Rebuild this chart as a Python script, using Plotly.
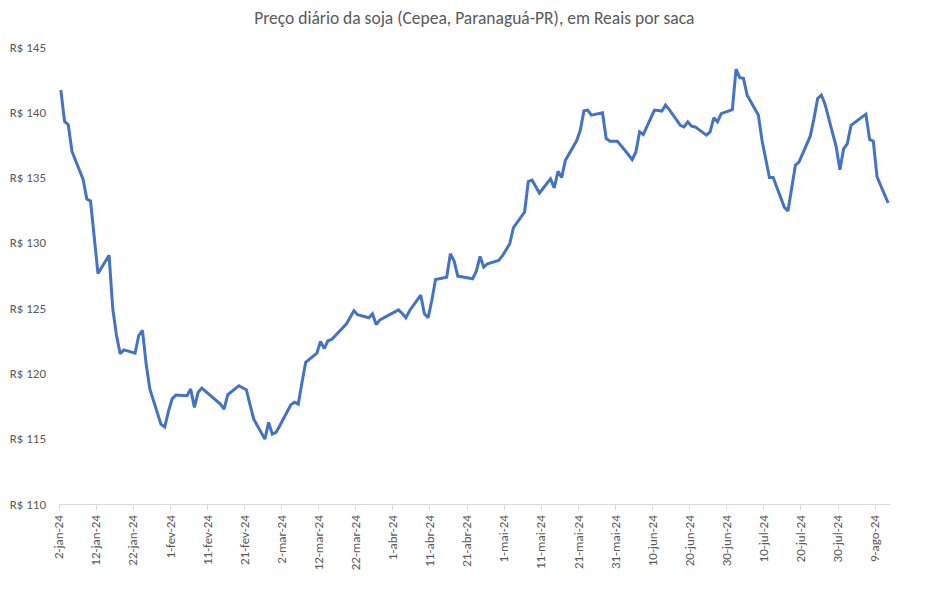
import plotly.graph_objects as go
import pandas as pd

title_text = "Preço diário da soja (Cepea, Paranaguá-PR), em Reais por saca"

dates = [
    "2024-01-02", "2024-01-03", "2024-01-04", "2024-01-05", "2024-01-08", "2024-01-09", "2024-01-10",
    "2024-01-11", "2024-01-12", "2024-01-15", "2024-01-16", "2024-01-17", "2024-01-18", "2024-01-19",
    "2024-01-22", "2024-01-23", "2024-01-24", "2024-01-25", "2024-01-26", "2024-01-29", "2024-01-30",
    "2024-01-31", "2024-02-01", "2024-02-02", "2024-02-05", "2024-02-06", "2024-02-07", "2024-02-08",
    "2024-02-09", "2024-02-14", "2024-02-15", "2024-02-16", "2024-02-19", "2024-02-20", "2024-02-21",
    "2024-02-22", "2024-02-23", "2024-02-26", "2024-02-27", "2024-02-28", "2024-02-29", "2024-03-01",
    "2024-03-04", "2024-03-05", "2024-03-06", "2024-03-07", "2024-03-08", "2024-03-11", "2024-03-12",
    "2024-03-13", "2024-03-14", "2024-03-15", "2024-03-18", "2024-03-19", "2024-03-20", "2024-03-21",
    "2024-03-22", "2024-03-25", "2024-03-26", "2024-03-27", "2024-03-28", "2024-04-01", "2024-04-02",
    "2024-04-03", "2024-04-04", "2024-04-05", "2024-04-08", "2024-04-09", "2024-04-10", "2024-04-11",
    "2024-04-12", "2024-04-15", "2024-04-16", "2024-04-17", "2024-04-18", "2024-04-19", "2024-04-22",
    "2024-04-23", "2024-04-24", "2024-04-25", "2024-04-26", "2024-04-29", "2024-04-30", "2024-05-02",
    "2024-05-03", "2024-05-06", "2024-05-07", "2024-05-08", "2024-05-09", "2024-05-10", "2024-05-13",
    "2024-05-14", "2024-05-15", "2024-05-16", "2024-05-17", "2024-05-20", "2024-05-21", "2024-05-22",
    "2024-05-23", "2024-05-24", "2024-05-27", "2024-05-28", "2024-05-29", "2024-05-31", "2024-06-03",
    "2024-06-04", "2024-06-05", "2024-06-06", "2024-06-07", "2024-06-10", "2024-06-11", "2024-06-12",
    "2024-06-13", "2024-06-14", "2024-06-17", "2024-06-18", "2024-06-19", "2024-06-20", "2024-06-21",
    "2024-06-24", "2024-06-25", "2024-06-26", "2024-06-27", "2024-06-28", "2024-07-01", "2024-07-02",
    "2024-07-03", "2024-07-04", "2024-07-05", "2024-07-08", "2024-07-09", "2024-07-10", "2024-07-11",
    "2024-07-12", "2024-07-15", "2024-07-16", "2024-07-17", "2024-07-18", "2024-07-19", "2024-07-22",
    "2024-07-23", "2024-07-24", "2024-07-25", "2024-07-26", "2024-07-29", "2024-07-30", "2024-07-31",
    "2024-08-01", "2024-08-02", "2024-08-05", "2024-08-06", "2024-08-07", "2024-08-08", "2024-08-09",
    "2024-08-12",
]

prices = [
    141.7, 139.3, 139.05, 137.0, 134.85, 133.35, 133.2,
    130.4, 127.65, 129.05, 124.95, 122.9, 121.5, 121.8,
    121.55, 122.9, 123.3, 120.7, 118.8, 116.1, 115.9,
    117.1, 118.05, 118.35, 118.3, 118.8, 117.4, 118.55,
    118.88, 117.65, 117.27, 118.37, 119.06, 118.9, 118.75,
    117.6, 116.5, 114.97, 116.25, 115.35, 115.48, 116.0,
    117.6, 117.8, 117.65, 119.3, 120.85, 121.55, 122.44,
    121.9, 122.5, 122.6, 123.53, 123.8, 124.3, 124.8,
    124.5, 124.26, 124.56, 123.74, 124.1, 124.68, 124.87,
    124.6, 124.26, 124.8, 126.0, 124.56, 124.26, 125.6,
    127.2, 127.37, 129.17, 128.6, 127.45, 127.4, 127.25,
    127.83, 128.96, 128.14, 128.4, 128.65, 129.0, 129.93,
    131.16, 132.36, 134.7, 134.8, 134.3, 133.82, 134.9,
    134.2, 135.48, 135.0, 136.33, 137.8, 138.6, 140.11,
    140.17, 139.78, 139.96, 137.99, 137.79, 137.79, 136.75,
    136.38, 136.96, 138.5, 138.3, 140.17, 140.13, 140.09,
    140.55, 140.2, 139.0, 138.88, 139.27, 138.94, 138.88,
    138.25, 138.5, 139.57, 139.27, 139.9, 140.2, 143.3,
    142.65, 142.6, 141.3, 139.8, 137.86, 136.45, 135.0,
    135.0, 132.74, 132.44, 134.2, 135.94, 136.2, 138.17,
    139.5, 141.06, 141.32, 140.6, 137.35, 135.6, 137.2,
    137.6, 139.0, 139.7, 139.86, 137.92, 137.79, 135.05,
    133.05,
]

tick_dates = [
    "2024-01-02", "2024-01-12", "2024-01-22", "2024-02-01", "2024-02-11", "2024-02-21",
    "2024-03-02", "2024-03-12", "2024-03-22", "2024-04-01", "2024-04-11", "2024-04-21",
    "2024-05-01", "2024-05-11", "2024-05-21", "2024-05-31", "2024-06-10", "2024-06-20",
    "2024-06-30", "2024-07-10", "2024-07-20", "2024-07-30", "2024-08-09",
]
tick_labels = [
    "2-jan-24", "12-jan-24", "22-jan-24", "1-fev-24", "11-fev-24", "21-fev-24",
    "2-mar-24", "12-mar-24", "22-mar-24", "1-abr-24", "11-abr-24", "21-abr-24",
    "1-mai-24", "11-mai-24", "21-mai-24", "31-mai-24", "10-jun-24", "20-jun-24",
    "30-jun-24", "10-jul-24", "20-jul-24", "30-jul-24", "9-ago-24",
]

y_ticks = [110, 115, 120, 125, 130, 135, 140, 145]
y_labels = ["R$ " + str(v) for v in y_ticks]

half_day = pd.Timedelta(hours=12)
tick_pos = [pd.Timestamp(d) - half_day for d in tick_dates]
x_start = pd.Timestamp(dates[0]) - half_day
x_end = pd.Timestamp(dates[-1]) + half_day

fig = go.Figure()
fig.add_trace(go.Scatter(
    x=pd.to_datetime(dates), y=prices, mode="lines",
    line=dict(color="#4472C4", width=3), hoverinfo="x+y",
))

font_fam = "Carlito, Calibri, 'Open Sans', sans-serif"
fig.update_layout(
    width=940, height=581,
    margin=dict(l=51, r=58, t=39, b=85),
    paper_bgcolor="white", plot_bgcolor="white",
    showlegend=False,
    title=dict(text=title_text, x=0.496, xanchor="center", y=0.983, yanchor="middle",
               font=dict(family=font_fam, size=17.5, color="#595959")),
    font=dict(family=font_fam, color="#595959"),
)
fig.update_xaxes(
    type="date", range=[x_start, x_end],
    tickmode="array", tickvals=tick_pos, ticktext=tick_labels,
    tickangle=-90, tickfont=dict(size=13, color="#595959"),
    showline=True, linecolor="#D9D9D9", linewidth=1,
    ticks="outside", tickcolor="#D9D9D9", ticklen=5,
    showgrid=False, zeroline=False, automargin=False,
)
fig.update_yaxes(
    range=[110, 145], tickmode="array", tickvals=y_ticks, ticktext=y_labels,
    tickfont=dict(size=13, color="#595959"),
    showline=False, showgrid=False, zeroline=False, ticks="",
    ticklabelstandoff=12, automargin=False,
)

fig.write_html("out.html")
